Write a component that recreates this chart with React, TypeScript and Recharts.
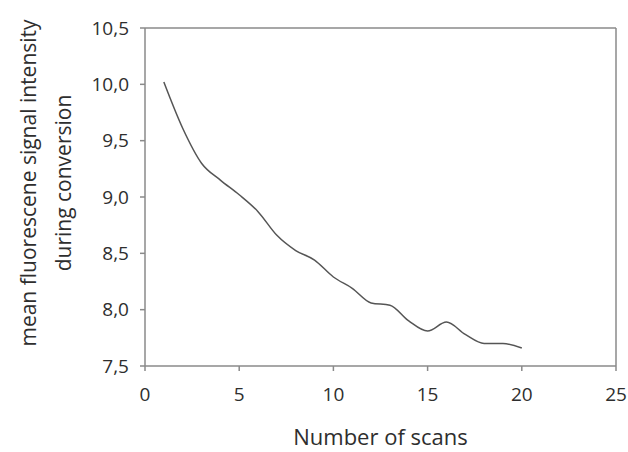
import { LineChart, Line, XAxis, YAxis, Label, ReferenceLine } from 'recharts'

const scans = [1, 2, 3, 4, 5, 6, 7, 8, 9, 10, 11, 12, 13, 14, 15, 16, 17, 18, 19, 20]
const intensity = [10.02, 9.61, 9.3, 9.15, 9.02, 8.87, 8.66, 8.525, 8.44, 8.29, 8.19, 8.06, 8.04, 7.9, 7.81, 7.89, 7.78, 7.7, 7.7, 7.66]
const xTicks = [0, 5, 10, 15, 20, 25]
const yTicks = [7.5, 8.0, 8.5, 9.0, 9.5, 10.0, 10.5]

const data = scans.map((s, i) => ({ scan: s, value: intensity[i] }))

const font = '"Open Sans", sans-serif'
const axisColor = '#8a8a8a'
const textColor = '#2e2e2e'

const fmt = (v: number) => v.toFixed(1).replace('.', ',')

function YTitle({ viewBox }: any) {
  const cy = viewBox.y + viewBox.height / 2 - 14
  return (
    <g fill={textColor} fontFamily={font} fontSize={21}>
      <text x={28} y={cy} transform={`rotate(-90 28 ${cy})`} textAnchor="middle" dominantBaseline="central">
        mean fluorescene signal intensity
      </text>
      <text x={63} y={cy} transform={`rotate(-90 63 ${cy})`} textAnchor="middle" dominantBaseline="central">
        during conversion
      </text>
    </g>
  )
}

function XTitle({ viewBox }: any) {
  return (
    <text x={viewBox.x + viewBox.width / 2} y={445} textAnchor="middle" fill={textColor} fontFamily={font} fontSize={22}>
      Number of scans
    </text>
  )
}

export default function App() {
  return (
    <div style={{ position: 'absolute', left: 0, top: 0, width: 628, height: 452 }}>
      <LineChart width={628} height={452} data={data} margin={{ top: 28, right: 12, bottom: 0, left: 0 }}>
        <XAxis
          dataKey="scan"
          type="number"
          domain={[0, 25]}
          ticks={xTicks}
          height={86}
          tickSize={5}
          tickMargin={17}
          stroke={axisColor}
          strokeWidth={1.5}
          tick={{ fill: textColor, fontSize: 19, fontFamily: font }}
        >
          <Label content={XTitle} />
        </XAxis>
        <YAxis
          type="number"
          domain={[7.5, 10.5]}
          ticks={yTicks}
          width={145}
          tickSize={5}
          tickMargin={11}
          tickFormatter={fmt}
          stroke={axisColor}
          strokeWidth={1.5}
          tick={{ fill: textColor, fontSize: 19, fontFamily: font }}
        >
          <Label content={YTitle} />
        </YAxis>
        <ReferenceLine y={10.5} stroke={axisColor} strokeWidth={1.5} />
        <ReferenceLine x={25} stroke={axisColor} strokeWidth={1.5} />
        <Line
          type="monotone"
          dataKey="value"
          stroke="#555"
          strokeWidth={1.5}
          dot={false}
          isAnimationActive={false}
        />
      </LineChart>
    </div>
  )
}
